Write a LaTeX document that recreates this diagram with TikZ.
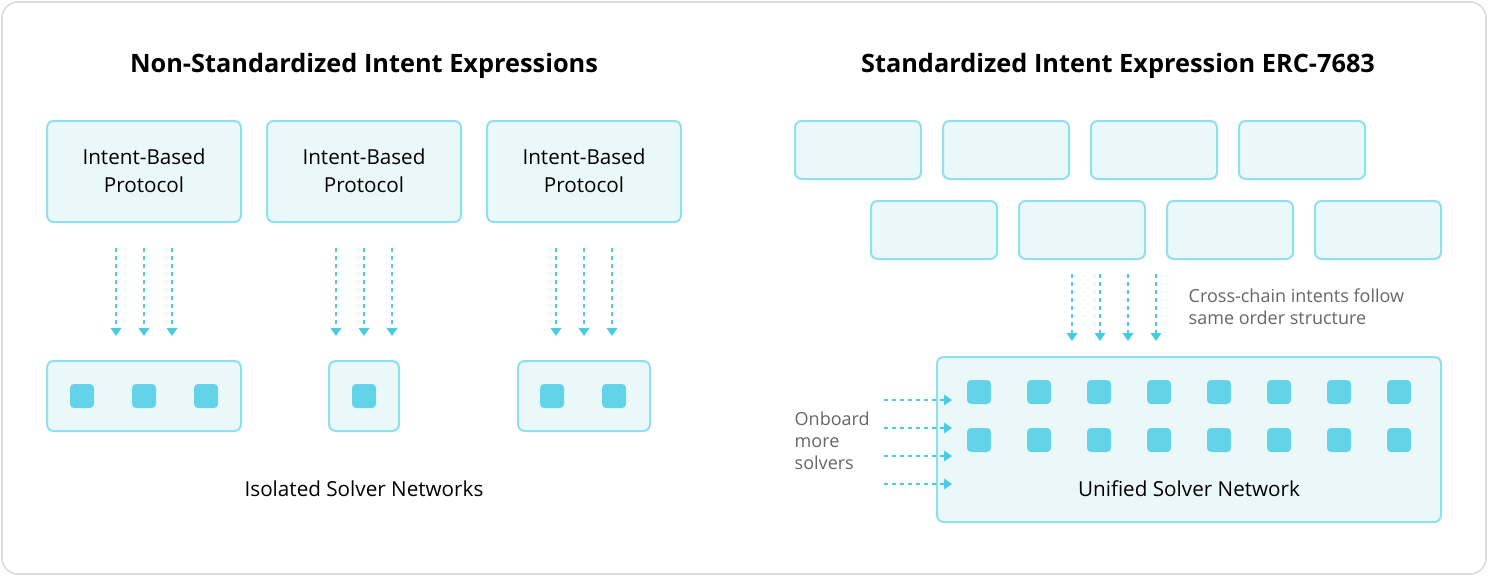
\documentclass[tikz,border=0pt]{standalone}
\usepackage{fontspec}
\setmainfont{Open Sans}
\usetikzlibrary{arrows.meta}
\definecolor{boxfill}{HTML}{EBF8FA}
\definecolor{boxline}{HTML}{8EE0EE}
\definecolor{solver}{HTML}{63D3E9}
\definecolor{flow}{HTML}{48CBE6}
\definecolor{note}{HTML}{666666}
\tikzset{
  proto/.style={draw=boxline, fill=boxfill, line width=1.5pt, rounded corners=5pt},
  solv/.style={fill=solver, rounded corners=3pt},
  flowarrow/.style={draw=flow, line width=1.2pt, dash pattern=on 3pt off 3pt, -{Triangle[length=6pt,width=8pt]}},
  title/.style={font=\fontsize{19}{22}\selectfont\bfseries},
  label/.style={font=\fontsize{15.5}{21}\selectfont, align=center},
  notetext/.style={font=\fontsize{13.5}{16.5}\selectfont, text=note, align=left, anchor=west}
}
\begin{document}
\begin{tikzpicture}[x=0.75pt,y=-0.75pt]
	\useasboundingbox (0,0) rectangle (1488,576);
	\draw[draw=black!14, line width=1.2pt, rounded corners=12pt] (2,2) rectangle (1486,574);

	% left side
	\node[title] (ltitle) at (364,66) {Non-Standardized Intent Expressions};
	\foreach \x/\n in {47/a,267/b,487/c}{
		\draw[proto] (\x,121) rectangle ++(194,101);
		\node[label] (proto\n) at (\x+97,171) {Intent-Based\\Protocol};
	}
	\foreach \x in {116,144,172,336,364,392,556,584,612}{
		\coordinate (s\x) at (\x,248);
		\coordinate (e\x) at (\x,336);
		\draw[flowarrow] (s\x) -- (e\x);
	}
	\draw[proto] (47,361) rectangle (241,431);
	\draw[proto] (329,361) rectangle (399,431);
	\draw[proto] (518,361) rectangle (650,431);
	\foreach \x in {82,144,206,364,552,614}
		\fill[solv] (\x-12,384) rectangle ++(24,24);
	\node[label] (isolated) at (364,489) {Isolated Solver Networks};

	% right side
	\node[title] (rtitle) at (1118,66) {Standardized Intent Expression ERC-7683};
	\foreach \x in {795,943,1091,1239}
		\draw[proto] (\x,121) rectangle ++(126,58);
	\foreach \x in {871,1019,1167,1315}
		\draw[proto] (\x,201) rectangle ++(126,58);
	\foreach \x in {1072,1100,1128,1156}{
		\coordinate (t\x) at (\x,274);
		\coordinate (b\x) at (\x,341);
		\draw[flowarrow] (t\x) -- (b\x);
	}
	\node[notetext] (cross) at (1184,307) {Cross-chain intents follow\\same order structure};
	\draw[proto] (937,357) rectangle (1441,522);
	\foreach \x in {979,1039,1099,1159,1219,1279,1339,1399}{
		\fill[solv] (\x-12,380) rectangle ++(24,24);
		\fill[solv] (\x-12,428) rectangle ++(24,24);
	}
	\foreach \y in {400,428,456,484}{
		\coordinate (l\y) at (884,\y);
		\coordinate (r\y) at (952,\y);
		\draw[flowarrow] (l\y) -- (r\y);
	}
	\node[notetext] (onboard) at (790,441) {Onboard\\more\\solvers};
	\node[label] (unified) at (1189,489) {Unified Solver Network};
\end{tikzpicture}
\end{document}
